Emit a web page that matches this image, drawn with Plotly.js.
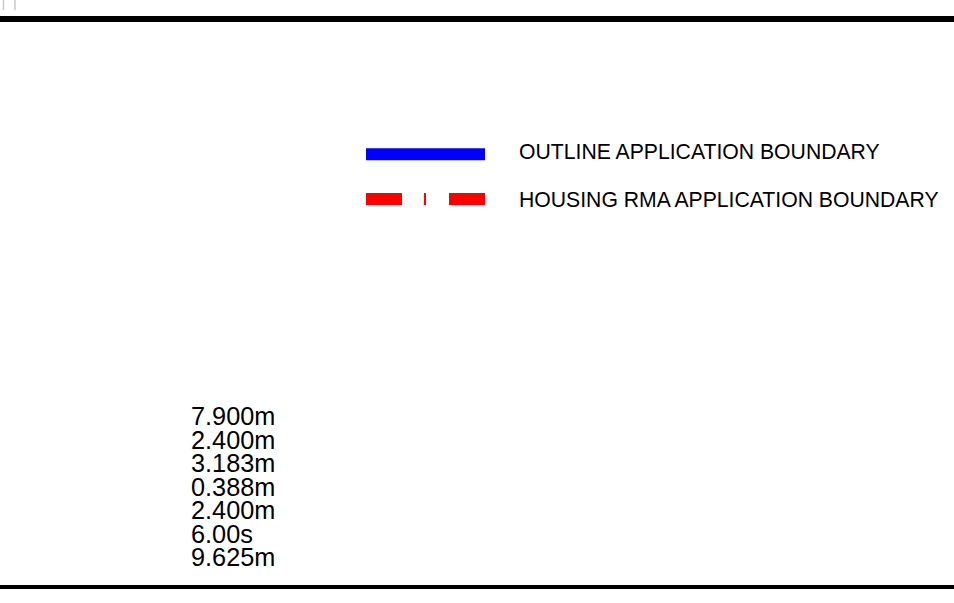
<!DOCTYPE html>
<html>
<head>
<meta charset="utf-8">
<script src="https://cdn.plot.ly/plotly-3.0.1.min.js"></script>
<style>html,body{margin:0;padding:0;background:#fff;}#chart{width:954px;height:603px;}</style>
</head>
<body>
<div id="chart"></div>
<script>
// ---- data ----
var legendLabels = ["OUTLINE APPLICATION BOUNDARY", "HOUSING RMA APPLICATION BOUNDARY"];
var legendColors = ["#0000ff", "#ff0000"];
var legendDashes = ["solid", "36px,22px,2px,23px,36px,1000px"];
var dimensionLabels = ["7.900m", "2.400m", "3.183m", "0.388m", "2.400m", "6.00s", "9.625m"];

// ---- layout constants (pixel space) ----
var W = 954, H = 603;
var legX0 = 366, legX1 = 485, legY0 = 154.3, legDY = 44.8;
var legTextX = 517, legTextY0 = 151, legTextDY = 48;
var dimX = 189, dimY0 = 416, dimDY = 23.5;
var FONT = "Liberation Sans, Arial, sans-serif";

var traces = legendLabels.map(function (lab, i) {
  var y = legY0 + i * legDY;
  return {
    x: [legX0, legX1], y: [y, y], mode: "lines", name: lab,
    line: {color: legendColors[i], width: 12, dash: legendDashes[i]},
    hoverinfo: "skip", showlegend: false
  };
});

var annotations = [];
legendLabels.forEach(function (lab, i) {
  annotations.push({
    x: legTextX, y: legTextY0 + i * legTextDY, xref: "x", yref: "y",
    text: lab, showarrow: false, xanchor: "left", yanchor: "middle",
    font: {family: FONT, size: 21.2, color: "#000"}
  });
});
dimensionLabels.forEach(function (lab, i) {
  annotations.push({
    x: dimX, y: dimY0 + i * dimDY, xref: "x", yref: "y",
    text: lab, showarrow: false, xanchor: "left", yanchor: "middle",
    height: 22, valign: "middle",
    font: {family: FONT, size: 25.3, color: "#000"}
  });
});

var shapes = [
  {type: "line", xref: "x", yref: "y", x0: 0, x1: W, y0: 19, y1: 19, line: {color: "#000", width: 6}},
  {type: "line", xref: "x", yref: "y", x0: 0, x1: W, y0: 587, y1: 587, line: {color: "#000", width: 4}},
  {type: "line", xref: "x", yref: "y", x0: 3.5, x1: 3.5, y0: 0, y1: 10, line: {color: "#c8c8c8", width: 1.5}},
  {type: "line", xref: "x", yref: "y", x0: 15, x1: 15, y0: 0, y1: 10, line: {color: "#c8c8c8", width: 1.5}}
];

var layout = {
  width: W, height: H,
  margin: {l: 0, r: 0, t: 0, b: 0, pad: 0},
  paper_bgcolor: "#fff", plot_bgcolor: "#fff",
  xaxis: {range: [0, W], visible: false, fixedrange: true},
  yaxis: {range: [H, 0], visible: false, fixedrange: true},
  showlegend: false,
  annotations: annotations,
  shapes: shapes
};

Plotly.newPlot("chart", traces, layout, {staticPlot: true, displayModeBar: false});
</script>
</body>
</html>
